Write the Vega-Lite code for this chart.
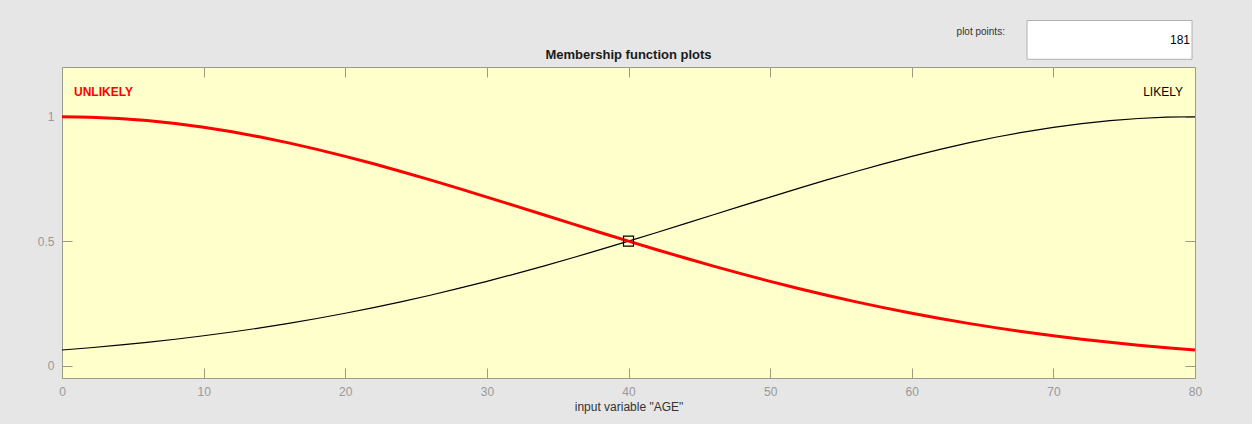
{
  "$schema": "https://vega.github.io/schema/vega-lite/v6.json",
  "autosize": "none",
  "width": 1133,
  "height": 311,
  "padding": {"left": 62, "top": 67, "right": 57, "bottom": 46},
  "background": "#e6e6e6",
  "config": {
    "view": {"fill": "#ffffcc", "stroke": "#9c9c8c", "strokeWidth": 1},
    "axis": {"grid": false, "domainColor": "#9c9c8c", "tickColor": "#9c9c7c", "tickSize": -10, "labelColor": "#999999", "labelFont": "Liberation Sans", "labelFontSize": 12, "labelFlush": false, "titleFont": "Liberation Sans", "titleFontSize": 12, "titleFontWeight": "normal", "titleColor": "#333333"}
  },
  "data": {"values": [
    {"x": 0, "unlikely": 1, "likely": 0.0625},
    {"x": 2, "unlikely": 0.99827, "likely": 0.07168},
    {"x": 4, "unlikely": 0.99309, "likely": 0.08189},
    {"x": 6, "unlikely": 0.98452, "likely": 0.09328},
    {"x": 8, "unlikely": 0.97266, "likely": 0.10584},
    {"x": 10, "unlikely": 0.9576, "likely": 0.11973},
    {"x": 12, "unlikely": 0.93952, "likely": 0.1349},
    {"x": 14, "unlikely": 0.91859, "likely": 0.1515},
    {"x": 16, "unlikely": 0.89502, "likely": 0.16955},
    {"x": 18, "unlikely": 0.86904, "likely": 0.18914},
    {"x": 20, "unlikely": 0.8409, "likely": 0.21022},
    {"x": 22, "unlikely": 0.81085, "likely": 0.23286},
    {"x": 24, "unlikely": 0.77917, "likely": 0.25703},
    {"x": 26, "unlikely": 0.74614, "likely": 0.28273},
    {"x": 28, "unlikely": 0.71203, "likely": 0.30992},
    {"x": 30, "unlikely": 0.67712, "likely": 0.33856},
    {"x": 32, "unlikely": 0.64171, "likely": 0.36857},
    {"x": 34, "unlikely": 0.60604, "likely": 0.39983},
    {"x": 36, "unlikely": 0.57039, "likely": 0.43226},
    {"x": 38, "unlikely": 0.53497, "likely": 0.46572},
    {"x": 40, "unlikely": 0.5, "likely": 0.5},
    {"x": 42, "unlikely": 0.46572, "likely": 0.53497},
    {"x": 44, "unlikely": 0.43226, "likely": 0.57039},
    {"x": 46, "unlikely": 0.39983, "likely": 0.60604},
    {"x": 48, "unlikely": 0.36857, "likely": 0.64171},
    {"x": 50, "unlikely": 0.33856, "likely": 0.67712},
    {"x": 52, "unlikely": 0.30992, "likely": 0.71203},
    {"x": 54, "unlikely": 0.28273, "likely": 0.74614},
    {"x": 56, "unlikely": 0.25703, "likely": 0.77917},
    {"x": 58, "unlikely": 0.23286, "likely": 0.81085},
    {"x": 60, "unlikely": 0.21022, "likely": 0.8409},
    {"x": 62, "unlikely": 0.18914, "likely": 0.86904},
    {"x": 64, "unlikely": 0.16955, "likely": 0.89502},
    {"x": 66, "unlikely": 0.1515, "likely": 0.91859},
    {"x": 68, "unlikely": 0.1349, "likely": 0.93952},
    {"x": 70, "unlikely": 0.11973, "likely": 0.9576},
    {"x": 72, "unlikely": 0.10584, "likely": 0.97266},
    {"x": 74, "unlikely": 0.09328, "likely": 0.98452},
    {"x": 76, "unlikely": 0.08189, "likely": 0.99309},
    {"x": 78, "unlikely": 0.07168, "likely": 0.99827},
    {"x": 80, "unlikely": 0.0625, "likely": 1}
  ]},
  "resolve": {"axis": {"x": "independent", "y": "independent"}},
  "layer": [
    {
      "mark": {"type": "line", "color": "#000000", "strokeWidth": 1.2},
      "encoding": {
        "x": {"field": "x", "type": "quantitative", "scale": {"domain": [0, 80], "nice": false, "zero": false},
              "axis": {"orient": "top", "labels": false, "title": null, "values": [0,10,20,30,40,50,60,70,80], "domain": false}},
        "y": {"field": "likely", "type": "quantitative", "scale": {"domain": [-0.05, 1.2], "nice": false, "zero": false},
              "axis": {"orient": "right", "labels": false, "title": null, "values": [0, 0.5, 1], "domain": false}}
      }
    },
    {
      "mark": {"type": "line", "color": "#ff0000", "strokeWidth": 3},
      "encoding": {
        "x": {"field": "x", "type": "quantitative", "scale": {"domain": [0, 80], "nice": false, "zero": false},
              "axis": {"orient": "bottom", "title": "input variable \"AGE\"", "values": [0,10,20,30,40,50,60,70,80], "labelPadding": 18, "titlePadding": 4, "domain": false}},
        "y": {"field": "unlikely", "type": "quantitative", "scale": {"domain": [-0.05, 1.2], "nice": false, "zero": false},
              "axis": {"orient": "left", "title": null, "values": [0, 0.5, 1], "format": ".1~f", "labelPadding": 18, "domain": false}}
      }
    },
    {
      "data": {"values": [{"x": 40, "y": 0.5}]},
      "mark": {"type": "point", "shape": "square", "size": 100, "filled": false, "stroke": "#000000", "strokeWidth": 1.2, "opacity": 1},
      "encoding": {
        "x": {"field": "x", "type": "quantitative", "scale": {"domain": [0, 80], "nice": false, "zero": false}, "axis": null},
        "y": {"field": "y", "type": "quantitative", "scale": {"domain": [-0.05, 1.2], "nice": false, "zero": false}, "axis": null}
      }
    },
    {
      "data": {"values": [{}]},
      "mark": {"type": "text", "text": "UNLIKELY", "align": "left", "baseline": "middle", "font": "Liberation Sans", "fontSize": 12, "fontWeight": "bold", "color": "#ff0000"},
      "encoding": {
        "x": {"datum": 0.85, "type": "quantitative", "scale": {"domain": [0, 80], "nice": false, "zero": false}, "axis": null},
        "y": {"datum": 1.1, "type": "quantitative", "scale": {"domain": [-0.05, 1.2], "nice": false, "zero": false}, "axis": null}
      }
    },
    {
      "data": {"values": [{}]},
      "mark": {"type": "text", "text": "LIKELY", "align": "right", "baseline": "middle", "font": "Liberation Sans", "fontSize": 12, "color": "#000000"},
      "encoding": {
        "x": {"datum": 79.15, "type": "quantitative", "scale": {"domain": [0, 80], "nice": false, "zero": false}, "axis": null},
        "y": {"datum": 1.1, "type": "quantitative", "scale": {"domain": [-0.05, 1.2], "nice": false, "zero": false}, "axis": null}
      }
    },
    {
      "data": {"values": [{}]},
      "mark": {"type": "text", "text": "Membership function plots", "align": "center", "baseline": "alphabetic", "font": "Liberation Sans", "fontSize": 13, "fontWeight": "bold", "color": "#1a1a1a"},
      "encoding": {
        "x": {"datum": 40, "type": "quantitative", "scale": {"domain": [0, 80], "nice": false, "zero": false}, "axis": null},
        "y": {"datum": 1.231, "type": "quantitative", "scale": {"domain": [-0.05, 1.2], "nice": false, "zero": false}, "axis": null}
      }
    },
    {
      "data": {"values": [{}]},
      "mark": {"type": "rect", "fill": "#ffffff", "stroke": "#b0b0b0", "strokeWidth": 1},
      "encoding": {
        "x": {"datum": 68.14, "type": "quantitative", "scale": {"domain": [0, 80], "nice": false, "zero": false}, "axis": null},
        "x2": {"datum": 79.79},
        "y": {"datum": 1.387, "type": "quantitative", "scale": {"domain": [-0.05, 1.2], "nice": false, "zero": false}, "axis": null},
        "y2": {"datum": 1.231}
      }
    },
    {
      "data": {"values": [{}]},
      "mark": {"type": "text", "text": "181", "align": "right", "baseline": "middle", "font": "Liberation Sans", "fontSize": 12, "color": "#000000"},
      "encoding": {
        "x": {"datum": 79.65, "type": "quantitative", "scale": {"domain": [0, 80], "nice": false, "zero": false}, "axis": null},
        "y": {"datum": 1.307, "type": "quantitative", "scale": {"domain": [-0.05, 1.2], "nice": false, "zero": false}, "axis": null}
      }
    },
    {
      "data": {"values": [{}]},
      "mark": {"type": "text", "text": "plot points:", "align": "right", "baseline": "middle", "font": "Liberation Sans", "fontSize": 10, "color": "#333333"},
      "encoding": {
        "x": {"datum": 66.58, "type": "quantitative", "scale": {"domain": [0, 80], "nice": false, "zero": false}, "axis": null},
        "y": {"datum": 1.339, "type": "quantitative", "scale": {"domain": [-0.05, 1.2], "nice": false, "zero": false}, "axis": null}
      }
    }
  ]
}
